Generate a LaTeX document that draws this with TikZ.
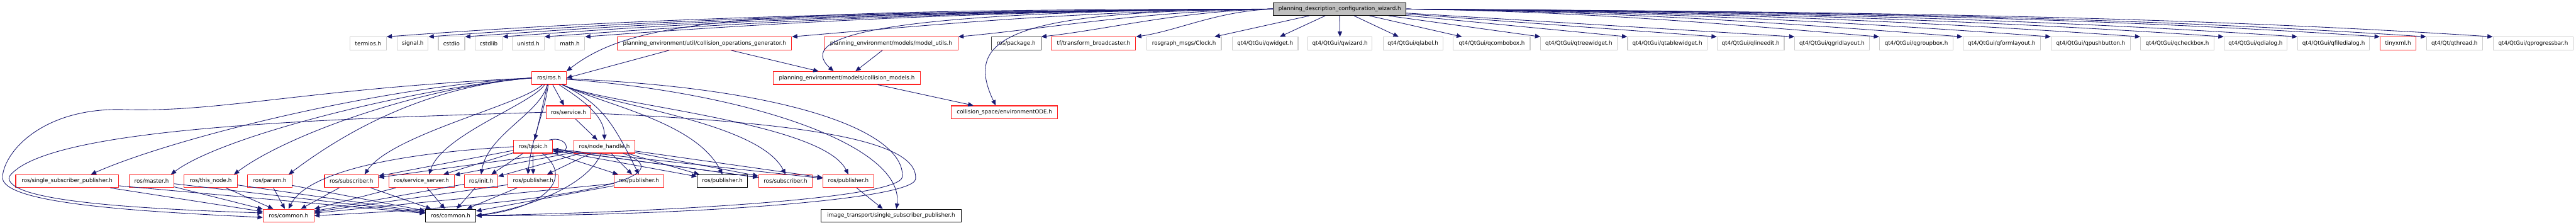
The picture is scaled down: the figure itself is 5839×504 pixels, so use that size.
\documentclass[tikz,border=0pt]{standalone}
\usepackage{fontspec}
\setmainfont{DejaVu Sans}
\usetikzlibrary{arrows.meta}
\definecolor{depblue}{RGB}{25,25,112}
\definecolor{extgray}{RGB}{205,205,205}
\definecolor{pkggray}{RGB}{70,70,70}
\definecolor{hdrgray}{RGB}{191,191,191}
\definecolor{truncred}{RGB}{255,35,35}
\newcommand{\pxu}{0.02cm}

\begin{document}
\begin{tikzpicture}[x=\pxu,y=\pxu,line cap=round,
 file/.style={rectangle,draw,fill=white,line width=.9pt,minimum height=29*\pxu,
  inner xsep=1pt,font=\fontsize{7.1}{8}\selectfont,minimum width=#1*\pxu},
 trunc/.style={draw=truncred},
 leafbox/.style={draw=black},
 ext/.style={draw=extgray},
 pkgbox/.style={draw=pkggray},
 hdr/.style={fill=hdrgray,draw=black},
 dep/.style={draw=depblue,line width=.7pt,-{Triangle[length=12*\pxu,width=10*\pxu]}}]
\fill[white] (0,0) rectangle (5839,-504);
% the file itself
\node[file=301,hdr] (main) at (3036.5,-20.5) {planning\_description\_configuration\_wizard.h};
% direct includes
\node[file=82,ext] (termios) at (834,-98.5) {termios.h};
\node[file=70,ext] (signalh) at (935,-98.5) {signal.h};
\node[file=60,ext] (cstdio) at (1023,-98.5) {cstdio};
\node[file=62,ext] (cstdlib) at (1107,-98.5) {cstdlib};
\node[file=72,ext] (unistd) at (1197,-98.5) {unistd.h};
\node[file=68,ext] (mathh) at (1291,-98.5) {math.h};
\node[file=395,trunc] (collops) at (1596.5,-98.5) {planning\_environment/util/collision\_operations\_generator.h};
\node[file=303,trunc] (modelutils) at (2019.5,-98.5) {planning\_environment/models/model\_utils.h};
\node[file=112,pkgbox] (pkg) at (2303,-98.5) {ros/package.h};
\node[file=191,trunc] (tfbc) at (2478.5,-98.5) {tf/transform\_broadcaster.h};
\node[file=169,ext] (clock) at (2683.5,-98.5) {rosgraph\_msgs/Clock.h};
\node[file=149,ext] (qwidget) at (2867.5,-98.5) {qt4/QtGui/qwidget.h};
\node[file=146,ext] (qwizard) at (3037,-98.5) {qt4/QtGui/qwizard.h};
\node[file=135,ext] (qlabel) at (3202.5,-98.5) {qt4/QtGui/qlabel.h};
\node[file=174,ext] (qcombo) at (3381,-98.5) {qt4/QtGui/qcombobox.h};
\node[file=173,ext] (qtree) at (3578.5,-98.5) {qt4/QtGui/qtreewidget.h};
\node[file=180,ext] (qtable) at (3779,-98.5) {qt4/QtGui/qtablewidget.h};
\node[file=152,ext] (qline) at (3968,-98.5) {qt4/QtGui/qlineedit.h};
\node[file=169,ext] (qgrid) at (4152.5,-98.5) {qt4/QtGui/qgridlayout.h};
\node[file=167,ext] (qgroup) at (4343.5,-98.5) {qt4/QtGui/qgroupbox.h};
\node[file=176,ext] (qform) at (4537,-98.5) {qt4/QtGui/qformlayout.h};
\node[file=180,ext] (qpush) at (4739,-98.5) {qt4/QtGui/qpushbutton.h};
\node[file=166,ext] (qcheck) at (4935,-98.5) {qt4/QtGui/qcheckbox.h};
\node[file=143,ext] (qdialog) at (5112.5,-98.5) {qt4/QtGui/qdialog.h};
\node[file=163,ext] (qfiledlg) at (5289.5,-98.5) {qt4/QtGui/qfiledialog.h};
\node[file=81,trunc] (tinyxml) at (5435.5,-98.5) {tinyxml.h};
\node[file=127,ext] (qthread) at (5563.5,-98.5) {qt4/Qt/qthread.h};
\node[file=182,ext] (qprogress) at (5742,-98.5) {qt4/QtGui/qprogressbar.h};
% ros and planning headers
\node[file=78,trunc] (rosh) at (1244,-176.5) {ros/ros.h};
\node[file=334,trunc] (cmod) at (1919,-176.5) {planning\_environment/models/collision\_models.h};
\node[file=102,trunc] (service) at (1288,-254) {ros/service.h};
\node[file=241,trunc] (ode) at (2276.5,-254) {collision\_space/environmentODE.h};
\node[file=88,trunc] (topic) at (1208,-332) {ros/topic.h};
\node[file=139,trunc] (nodeh) at (1369.5,-332) {ros/node\_handle.h};
\node[file=233,trunc] (ssp) at (151.5,-410) {ros/single\_subscriber\_publisher.h};
\node[file=102,trunc] (master) at (343,-410) {ros/master.h};
\node[file=120,trunc] (thisnode) at (477,-410) {ros/this\_node.h};
\node[file=100,trunc] (param) at (611,-410) {ros/param.h};
\node[file=122,trunc] (subA) at (796,-410) {ros/subscriber.h};
\node[file=148,trunc] (srvsrv) at (955,-410) {ros/service\_server.h};
\node[file=76,trunc] (init) at (1090,-410) {ros/init.h};
\node[file=114,trunc] (pubA) at (1208,-410) {ros/publisher.h};
\node[file=113,trunc] (pubB) at (1447.5,-410) {ros/publisher.h};
\node[file=114,leafbox] (pubC) at (1637,-410) {ros/publisher.h};
\node[file=122,trunc] (subD) at (1780,-410) {ros/subscriber.h};
\node[file=115,trunc] (pubE) at (1922.5,-410) {ros/publisher.h};
\node[file=115,trunc] (comA) at (653.5,-488) {ros/common.h};
\node[file=114,leafbox] (comB) at (1021,-488) {ros/common.h};
\node[file=317,leafbox] (imgtr) at (2019.5,-488) {image\_transport/single\_subscriber\_publisher.h};

% edges of the file itself
\foreach \f/\a/\b/\h in {termios/800/600/45,signalh/770/575/43,cstdio/730/550/41,
  cstdlib/700/525/39,unistd/660/500/37,mathh/625/470/35,collops/440/330/28,
  modelutils/290/215/20,pkg/210/160/18,tfbc/125/95/14}
 \draw[dep] (main.west) .. controls +(-\a,-4) and +(\b,\h) .. (\f.north east);
\foreach \f in {clock,qwidget,qwizard,qlabel,qcombo}
 \draw[dep] (main) -- (\f);
\foreach \f in {qtree,qtable,qline,qgrid}
 \draw[dep] (main) -- (\f.north west);
\foreach \f/\a/\b/\h in {qgroup/430/320/26,qform/505/380/29,qpush/585/440/32,
  qcheck/665/500/35,qdialog/740/555/38,qfiledlg/810/605/41,tinyxml/880/660/44,
  qthread/925/695/46,qprogress/985/740/48}
 \draw[dep] (main.east) .. controls +(\a,-6) and +(-\b,\h) .. (\f.north west);
\draw[dep] (main.west) .. controls (1700,-22) and (1440,-40) .. (rosh.north east);
\draw[dep] (main.west) .. controls (2000,-25) and (1800,-80) .. ([xshift=-30*\pxu]cmod.north);
\draw[dep] (main.west) .. controls (2300,-25) and (2180,-80) .. ([xshift=-20*\pxu]ode.north);
% planning environment
\draw[dep] ([xshift=-80*\pxu]collops.south) -- (rosh.east);
\draw[dep] ([xshift=60*\pxu]collops.south) -- (cmod);
\draw[dep] (modelutils) -- (cmod);
\draw[dep] (cmod) -- (ode);
% ros/ros.h
\draw[dep] (rosh.west) .. controls +(-350,-20) and +(180,80) .. ([xshift=54*\pxu]ssp.north);
\foreach \f in {master,thisnode,param}
 \draw[dep] (rosh.west) .. controls +(-250,-20) and +(120,90) .. ([xshift=-8*\pxu]\f.north east);
\draw[dep] (rosh) .. controls +(-60,-60) and +(60,90) .. ([xshift=30*\pxu]subA.north);
\draw[dep] (rosh) .. controls +(-40,-60) and +(30,90) .. ([xshift=17*\pxu]srvsrv.north);
\draw[dep] (rosh) .. controls +(-20,-80) and +(15,90) .. (init.north);
\draw[dep] (rosh) .. controls +(-10,-80) and +(10,90) .. ([xshift=-12*\pxu]pubA.north);
\draw[dep] (rosh) -- (topic);
\draw[dep] (rosh) -- ([xshift=-10*\pxu]service.north);
\draw[dep] (rosh) .. controls +(60,-40) and +(0,60) .. (nodeh.north);
\foreach \f in {pubB,pubC,subD,pubE}
 \draw[dep] (rosh) .. controls +(120,-60) and +(-60,120) .. (\f.north);
\draw[dep] (rosh) .. controls (1700,-210) and (2050,-330) .. ([xshift=12*\pxu]imgtr.north);
\draw[dep] (rosh) .. controls (1800,-200) and (2050,-300) .. (2045,-400)
 .. controls (2040,-450) and (1500,-480) .. (comB.east);
\draw[dep] (rosh.west) .. controls (700,-200) and (500,-255) .. (280,-248)
 .. controls (100,-243) and (10,-340) .. (5,-400)
 .. controls (0,-460) and (300,-478) .. ([yshift=-4*\pxu]comA.west);
% ros/service.h
\draw[dep] (service) -- (nodeh);
\draw[dep] (service.west) .. controls (700,-270) and (100,-290) .. (20,-400)
 .. controls (10,-455) and (300,-472) .. ([yshift=6*\pxu]comA.west);
\draw[dep] (service) .. controls (1900,-280) and (2080,-330) .. (2075,-405)
 .. controls (2070,-455) and (1500,-490) .. (comB.east);
% ros/topic.h and ros/node_handle.h
\draw[dep] ([xshift=-8*\pxu]topic.north east) .. controls +(40,10) and +(45,-5) .. ([yshift=-10*\pxu]topic.east);
\foreach \f in {subA,srvsrv,init,pubA,pubB,pubC,subD,pubE}
 \draw[dep] (topic) -- (\f);
\draw[dep] (topic.west) .. controls (850,-350) and (690,-400) .. (comA.north);
\draw[dep] (topic) .. controls (1300,-400) and (1240,-470) .. (comB.east);
\foreach \f in {subA,srvsrv,init,pubA,pubB,pubC,subD,pubE}
 \draw[dep] (nodeh) -- (\f);
\draw[dep] (nodeh) .. controls (1330,-420) and (1200,-470) .. (comB.east);
\draw[dep] (nodeh) .. controls (1560,-400) and (1300,-460) .. (comA.east);
\draw[dep] (subD) -- (topic);
% down to the common headers
\foreach \f in {ssp,master,thisnode,param,subA,srvsrv,init,pubA,pubB}{
 \draw[dep] (\f) -- (comA);
 \draw[dep] (\f) -- (comB);
}
\draw[dep] (pubE) -- (imgtr);
\end{tikzpicture}
\end{document}
